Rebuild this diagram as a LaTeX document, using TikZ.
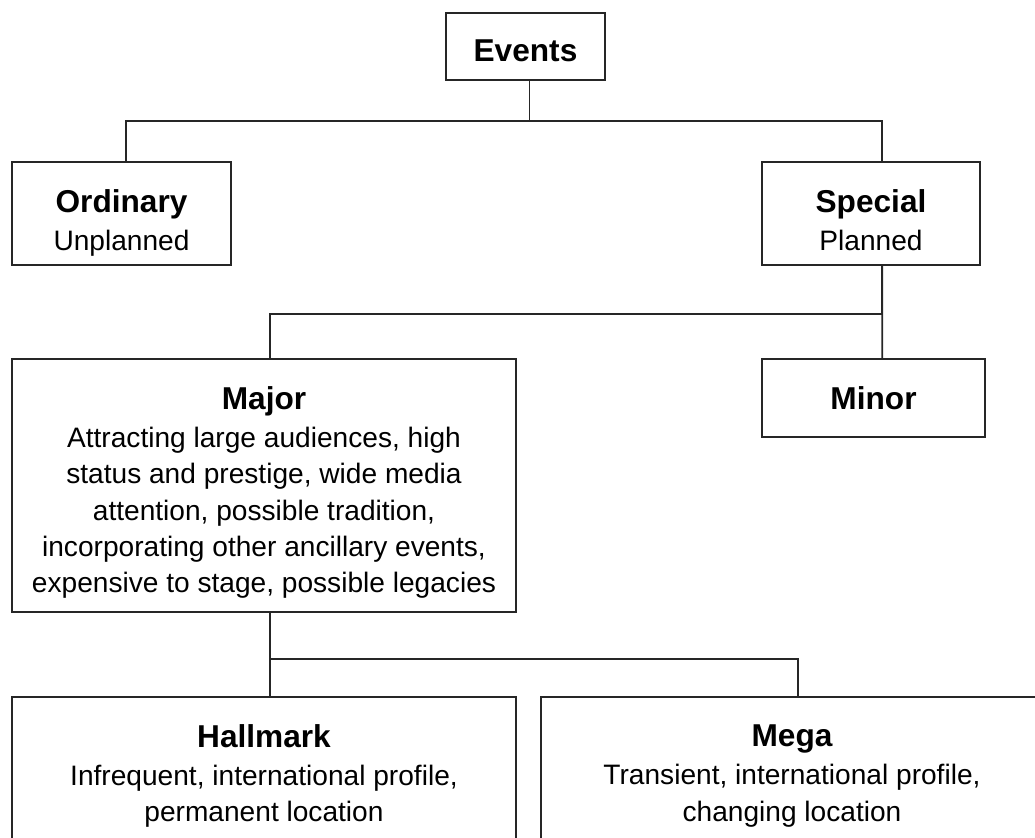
\documentclass[tikz,border=0pt]{standalone}
\usepackage{fontspec}
\setmainfont{Liberation Sans}
\usepackage{tikz}
\usetikzlibrary{positioning,calc}
\newcommand{\evtitle}[2][0pt]{{\fontsize{18}{22}\selectfont\bfseries\rule{0pt}{#1}#2}}
\tikzset{
  evbox/.style={
    draw=black!85,
    line width=1pt,
    rectangle,
    align=center,
    inner sep=2pt,
    font=\fontsize{16}{20.7}\selectfont
  },
  link/.style={
    draw=black!85,
    line width=1pt
  }
}
\begin{document}
\begin{tikzpicture}[x=0.02cm, y=-0.02cm]
  \useasboundingbox (0,0) rectangle (1035,838);
  \clip (0,0) rectangle (1035,838);

  % Top level
  \node[evbox, minimum width=3.18cm, minimum height=1.34cm] (events) at (525.5,46.5) {\evtitle[17.5pt]{Events}};

  % Ordinary and special
  \node[evbox, minimum width=4.38cm, minimum height=2.06cm] (ordinary) at (121.5,213.5) {\evtitle[23.5pt]{Ordinary}\\[1pt] Unplanned};
  \node[evbox, minimum width=4.36cm, minimum height=2.06cm] (special) at (871,213.5) {\evtitle[21pt]{Special}\\[1pt] Planned};

  % Major and minor
  \node[evbox, minimum width=10.08cm, minimum height=5.06cm] (major) at (264,485.5) {\evtitle[21pt]{Major}\\[1pt]
    Attracting large audiences, high\\
    status and prestige, wide media\\
    attention, possible tradition,\\
    incorporating other ancillary events,\\
    expensive to stage, possible legacies};
  \node[evbox, minimum width=4.46cm, minimum height=1.56cm] (minor) at (873.5,398) {\evtitle{Minor}};

  % Hallmark and mega
  \node[evbox, minimum width=10.08cm, minimum height=3.16cm] (hallmark) at (264,776) {\evtitle{Hallmark}\\[1pt]
    Infrequent, international profile,\\
    permanent location};
  \node[evbox, minimum width=10.04cm, minimum height=3.16cm] (mega) at (792,776) {\evtitle{Mega}\\[1pt]
    Transient, international profile,\\
    changing location};

  % Connectors
  \draw[link] ([xshift=2.3pt]events.south) -- ++(0,40) -| ([xshift=2.5pt]ordinary.north);
  \draw[link] ([xshift=2.3pt]events.south) -- ++(0,40) -| ([xshift=6.4pt]special.north);
  \draw[link] ([xshift=6.4pt]special.south) -- ([xshift=5pt]minor.north);
  \draw[link] ([xshift=6.4pt]special.south) -- ++(0,48) -| ([xshift=3.6pt]major.north);
  \draw[link] ([xshift=3.6pt]major.south) -- ([xshift=3.6pt]hallmark.north);
  \draw[link] ([xshift=3.6pt]major.south) -- ++(0,46) -| ([xshift=3.4pt]mega.north);
\end{tikzpicture}
\end{document}
